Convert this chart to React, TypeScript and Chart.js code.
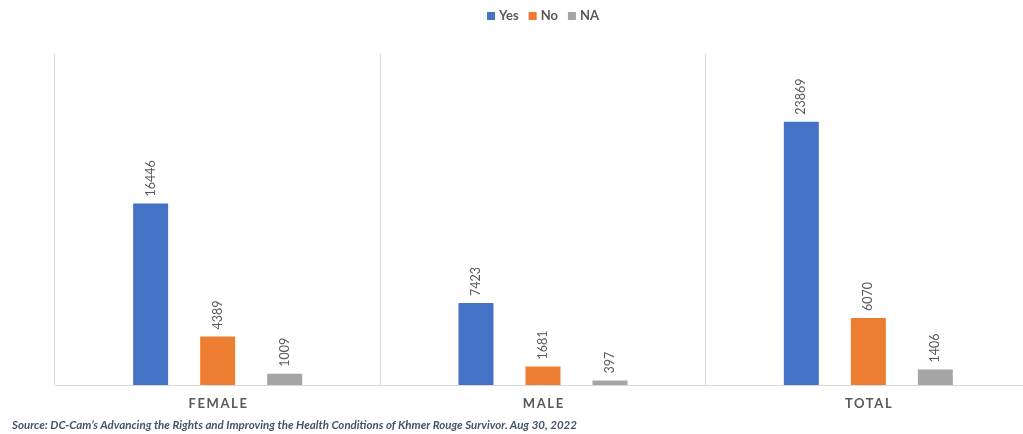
import React, { useEffect, useRef } from "react";
import { Chart, registerables } from "chart.js";

Chart.register(...registerables);

const categories = ["FEMALE", "MALE", "TOTAL"];
const seriesNames = ["Yes", "No", "NA"];
const yesValues = [16446, 7423, 23869];
const noValues = [4389, 1681, 6070];
const naValues = [1009, 397, 1406];
const seriesColors = ["#4472C4", "#ED7D31", "#A5A5A5"];
const yMax = 30000;
const sourceText =
  "Source: DC-Cam\u2019s Advancing the Rights and Improving the Health Conditions of Khmer Rouge Survivor. Aug 30, 2022";

const FONT = "Lato, 'Open Sans', sans-serif";

const barLabelPlugin = {
  id: "barLabels",
  afterDatasetsDraw(chart: any) {
    const ctx = chart.ctx;
    chart.data.datasets.forEach((ds: any, i: number) => {
      const meta = chart.getDatasetMeta(i);
      meta.data.forEach((bar: any, j: number) => {
        ctx.save();
        ctx.translate(bar.x, bar.y - 7);
        ctx.rotate(-Math.PI / 2);
        ctx.font = `12.5px ${FONT}`;
        ctx.fillStyle = "#595959";
        ctx.textAlign = "left";
        ctx.textBaseline = "middle";
        ctx.fillText(String(ds.data[j]), 0, 0);
        ctx.restore();
      });
    });
  },
};

const xLabelPlugin = {
  id: "xLabels",
  afterDraw(chart: any) {
    const ctx = chart.ctx;
    const xs = chart.scales.x;
    ctx.save();
    ctx.font = `bold 13px ${FONT}`;
    ctx.fillStyle = "#595959";
    ctx.textAlign = "center";
    ctx.textBaseline = "middle";
    try {
      (ctx as any).letterSpacing = "1.6px";
    } catch (e) {}
    chart.data.labels.forEach((lab: string, i: number) => {
      ctx.fillText(lab, xs.getPixelForValue(i) + 0.8, chart.chartArea.bottom + 19);
    });
    ctx.restore();
  },
};

const legendPlugin = {
  id: "customLegend",
  afterDraw(chart: any) {
    const ctx = chart.ctx;
    ctx.save();
    ctx.font = `bold 13px ${FONT}`;
    ctx.textBaseline = "middle";
    const box = 8;
    const gapText = 4;
    const gapItem = 10;
    const items = chart.data.datasets.map((d: any) => ({
      label: d.label,
      color: d.backgroundColor,
      w: ctx.measureText(d.label).width,
    }));
    const total =
      items.reduce((s: number, it: any) => s + box + gapText + it.w, 0) +
      gapItem * (items.length - 1);
    const ca = chart.chartArea;
    let x = (ca.left + ca.right) / 2 - total / 2;
    const y = 16;
    items.forEach((it: any) => {
      ctx.fillStyle = it.color;
      ctx.fillRect(x, y - box / 2, box, box);
      x += box + gapText;
      ctx.fillStyle = "#595959";
      ctx.textAlign = "left";
      ctx.fillText(it.label, x, y);
      x += it.w + gapItem;
    });
    ctx.restore();
  },
};

export default function App() {
  const ref = useRef<HTMLCanvasElement>(null);

  useEffect(() => {
    if (!ref.current) return;
    const chart = new Chart(ref.current, {
      type: "bar",
      data: {
        labels: categories,
        datasets: [
          { label: seriesNames[0], data: yesValues, backgroundColor: seriesColors[0] },
          { label: seriesNames[1], data: noValues, backgroundColor: seriesColors[1] },
          { label: seriesNames[2], data: naValues, backgroundColor: seriesColors[2] },
        ],
      },
      options: {
        animation: false,
        responsive: false,
        maintainAspectRatio: false,
        layout: { padding: { left: 55, right: 9, top: 54, bottom: 49 } },
        datasets: {
          bar: { categoryPercentage: 0.618, barPercentage: 0.522 },
        },
        plugins: {
          legend: { display: false },
          tooltip: { enabled: false },
        },
        scales: {
          x: {
            offset: true,
            grid: { display: true, offset: true, color: "#d9d9d9", drawTicks: false },
            border: { display: true, color: "#d9d9d9" },
            ticks: { display: false },
          },
          y: {
            display: false,
            min: 0,
            max: yMax,
          },
        },
      },
      plugins: [barLabelPlugin, xLabelPlugin, legendPlugin],
    });
    return () => chart.destroy();
  }, []);

  return (
    <div
      style={{
        position: "fixed",
        left: 0,
        top: 0,
        width: 1023,
        height: 434,
        overflow: "hidden",
        background: "#ffffff",
      }}
    >
      <canvas
        ref={ref}
        width={1040}
        height={434}
        style={{ position: "absolute", left: 0, top: 0, width: 1040, height: 434 }}
      />
      <div
        style={{
          position: "absolute",
          left: 12,
          top: 418,
          fontFamily: FONT,
          fontStyle: "italic",
          fontWeight: "bold",
          fontSize: 11.5,
          color: "#44546A",
          whiteSpace: "nowrap",
          lineHeight: "14px",
        }}
      >
        {sourceText}
      </div>
    </div>
  );
}
